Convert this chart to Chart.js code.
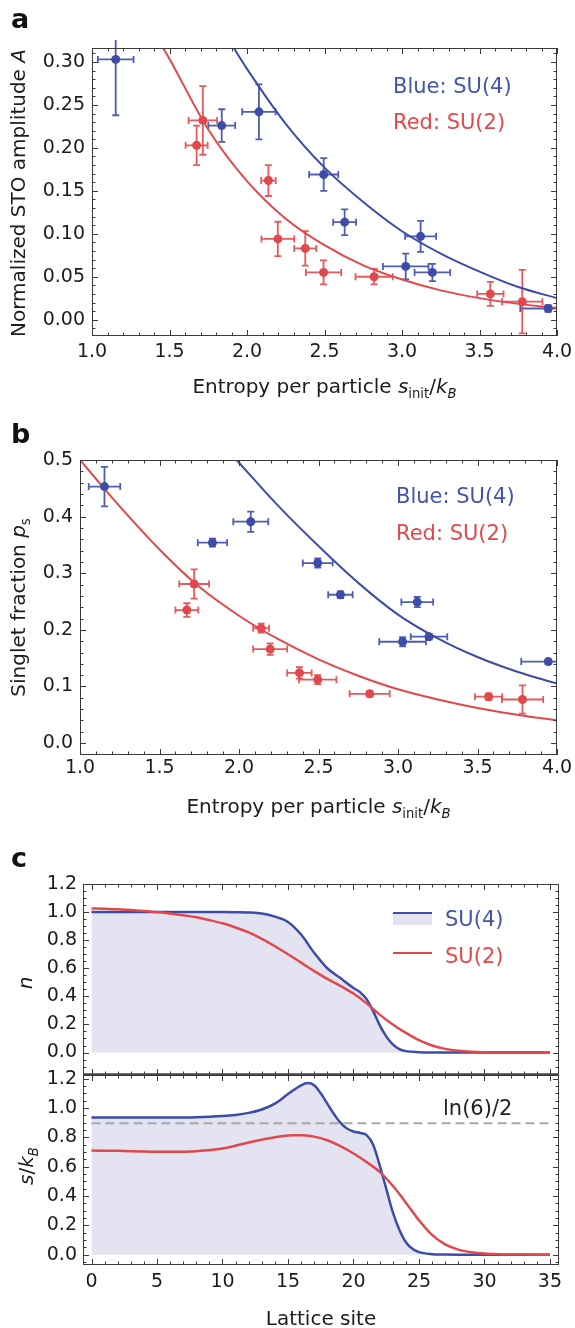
<!DOCTYPE html>
<html><head><meta charset="utf-8">
<script src="https://cdn.jsdelivr.net/npm/chart.js@4.4.1/dist/chart.umd.min.js"></script>
<style>
html,body{margin:0;padding:0;background:#fff;}
#wrap{position:relative;width:575px;height:1328px;overflow:hidden;background:#fff;}
canvas{position:absolute;left:0;}
.pl{position:absolute;font:bold 27px 'DejaVu Sans',sans-serif;color:#111;line-height:27px;}
</style></head>
<body><div id="wrap">
<canvas id="cA" width="575" height="400" style="top:0px"></canvas>
<canvas id="cB" width="575" height="420" style="top:400px"></canvas>
<canvas id="cC1" width="575" height="256" style="top:820px"></canvas>
<canvas id="cC2" width="575" height="263" style="top:1065px"></canvas>
<div class="pl" style="left:11px;top:5px">a</div>
<div class="pl" style="left:11px;top:420px">b</div>
<div class="pl" style="left:11px;top:844px">c</div>
</div>
<script>
// ================= DATA =================
// Panel a : normalized STO amplitude A vs entropy per particle
const aBlueX    = [1.153, 1.837, 2.077, 2.495, 2.630, 3.120, 3.024, 3.196, 3.943];
const aBlueY    = [0.303, 0.226, 0.242, 0.169, 0.1135, 0.097, 0.062, 0.055, 0.013];
const aBlueXErr = [0.115, 0.087, 0.108, 0.094, 0.074, 0.100, 0.147, 0.115, 0.180];
const aBlueYErr = [0.065, 0.019, 0.032, 0.019, 0.015, 0.018, 0.015, 0.010, 0.004];
const aRedX     = [1.715, 1.675, 2.138, 2.199, 2.376, 2.494, 2.820, 3.570, 3.776];
const aRedY     = [0.232, 0.203, 0.162, 0.094, 0.083, 0.055, 0.050, 0.030, 0.021];
const aRedXErr  = [0.092, 0.071, 0.047, 0.106, 0.071, 0.114, 0.120, 0.085, 0.130];
const aRedYErr  = [0.040, 0.023, 0.018, 0.020, 0.020, 0.014, 0.009, 0.014, 0.037];
const aFitBlueX = [1.916, 2.0, 2.25, 2.5, 2.75, 3.0, 3.25, 3.5, 3.75, 4.0];
const aFitBlueY = [0.316, 0.292, 0.228, 0.177, 0.137, 0.103, 0.077, 0.056, 0.038, 0.025];
const aFitRedX  = [1.46, 1.5, 1.75, 2.0, 2.25, 2.5, 2.75, 3.0, 3.25, 3.5, 3.75, 4.0];
const aFitRedY  = [0.316, 0.3036, 0.2214, 0.1614, 0.1176, 0.0867, 0.0632, 0.0468, 0.0341, 0.0251, 0.0184, 0.0135];
const aXTicks   = ['1.0', '1.5', '2.0', '2.5', '3.0', '3.5', '4.0'];
const aYTicks   = ['0.00', '0.05', '0.10', '0.15', '0.20', '0.25', '0.30'];

// Panel b : singlet fraction p_s vs entropy per particle
const bBlueX    = [1.154, 1.833, 2.074, 2.495, 2.638, 3.121, 3.029, 3.195, 3.945];
const bBlueY    = [0.453, 0.354, 0.391, 0.318, 0.262, 0.249, 0.179, 0.188, 0.144];
const bBlueXErr = [0.099, 0.092, 0.110, 0.094, 0.077, 0.100, 0.147, 0.115, 0.170];
const bBlueYErr = [0.035, 0.007, 0.018, 0.008, 0.006, 0.009, 0.008, 0.005, 0.004];
const bRedX     = [1.718, 1.672, 2.139, 2.196, 2.380, 2.495, 2.822, 3.570, 3.783];
const bRedY     = [0.281, 0.235, 0.203, 0.166, 0.124, 0.112, 0.087, 0.082, 0.077];
const bRedXErr  = [0.094, 0.072, 0.050, 0.107, 0.077, 0.118, 0.126, 0.086, 0.130];
const bRedYErr  = [0.026, 0.012, 0.008, 0.010, 0.010, 0.008, 0.005, 0.006, 0.025];
const bFitBlueX = [1.985, 2.25, 2.5, 2.75, 3.0, 3.25, 3.5, 3.75, 4.0];
const bFitBlueY = [0.500, 0.418, 0.348, 0.283, 0.227, 0.185, 0.152, 0.126, 0.105];
const bFitRedX  = [1.0, 1.25, 1.5, 1.75, 2.0, 2.25, 2.5, 2.75, 3.0, 3.25, 3.5, 3.75, 4.0];
const bFitRedY  = [0.500, 0.418, 0.342, 0.276, 0.225, 0.183, 0.148, 0.119, 0.095, 0.077, 0.062, 0.050, 0.040];
const bXTicks   = ['1.0', '1.5', '2.0', '2.5', '3.0', '3.5', '4.0'];
const bYTicks   = ['0.0', '0.1', '0.2', '0.3', '0.4', '0.5'];

// Panel c : density n and entropy s/kB vs lattice site
const cN4X = [0, 2, 4, 6, 8, 10, 11, 12, 13, 14, 15, 16, 17, 18, 19, 20, 20.5, 21, 21.5, 22, 22.5, 23, 23.5, 24, 25, 26, 28, 30, 35];
const cN4Y = [1.0, 1.0, 1.0, 1.0, 1.0, 1.0, 0.999, 0.997, 0.99, 0.968, 0.93, 0.84, 0.71, 0.60, 0.53, 0.46, 0.43, 0.38, 0.295, 0.195, 0.115, 0.058, 0.025, 0.010, 0.002, 0, 0, 0, 0];
const cN2X = [0, 1, 2, 3, 4, 5, 6, 7, 8, 9, 10, 11, 12, 13, 14, 15, 16, 17, 18, 19, 20, 21, 22, 23, 24, 25, 26, 27, 28, 29, 30, 31, 32, 35];
const cN2Y = [1.025, 1.024, 1.02, 1.015, 1.008, 1.0, 0.99, 0.978, 0.963, 0.943, 0.92, 0.89, 0.855, 0.81, 0.757, 0.70, 0.64, 0.58, 0.525, 0.475, 0.42, 0.35, 0.27, 0.20, 0.14, 0.088, 0.05, 0.026, 0.012, 0.005, 0.002, 0.001, 0, 0];
const cS4X = [0, 2, 4, 6, 8, 10, 11, 12, 13, 14, 15, 16, 16.5, 17, 17.5, 18, 18.5, 19, 19.5, 20, 20.5, 21, 21.5, 22, 22.5, 23, 23.5, 24, 24.5, 25, 26, 27, 28, 30, 35];
const cS4Y = [0.935, 0.935, 0.935, 0.935, 0.937, 0.945, 0.953, 0.967, 0.99, 1.03, 1.095, 1.155, 1.17, 1.155, 1.10, 1.03, 0.96, 0.90, 0.86, 0.84, 0.83, 0.815, 0.75, 0.61, 0.45, 0.29, 0.17, 0.085, 0.04, 0.018, 0.004, 0.001, 0, 0, 0];
const cS2X = [0, 2, 4, 6, 8, 10, 12, 14, 15, 15.5, 16, 17, 18, 19, 20, 21, 22, 23, 24, 25, 26, 27, 28, 29, 30, 31, 32, 33, 35];
const cS2Y = [0.71, 0.708, 0.704, 0.702, 0.706, 0.724, 0.765, 0.80, 0.812, 0.815, 0.814, 0.805, 0.78, 0.74, 0.69, 0.632, 0.565, 0.47, 0.355, 0.235, 0.135, 0.07, 0.035, 0.017, 0.008, 0.004, 0.002, 0.001, 0];
const cLnX = [0, 35];
const cLnY = [0.896, 0.896];   // ln(6)/2
const cXTicks = ['0', '5', '10', '15', '20', '25', '30', '35'];
const cYTicks = ['0.0', '0.2', '0.4', '0.6', '0.8', '1.0', '1.2'];

// ================= STYLE =================
const BLUE = '#3d4ca6', RED = '#e1484b', FILL = '#e3e3f2';
const BLUE_T = '#4353ae', RED_T = '#e0494c';
const FONT = "'DejaVu Sans', sans-serif";

Chart.defaults.font.family = FONT;
Chart.defaults.font.size = 19;
Chart.defaults.color = '#1c1c1c';
Chart.defaults.animation = false;
Chart.defaults.plugins.legend.display = false;
Chart.defaults.plugins.tooltip.enabled = false;

const zip = (xs, ys) => xs.map((v, i) => ({x: v, y: ys[i]}));

function axis(min, max, labels, o) {
  return {
    type: 'linear', min: min, max: max,
    grid: {display: false, drawTicks: false},
    border: {display: false},
    afterBuildTicks: s => { s.ticks = labels.map(l => ({value: parseFloat(l)})); },
    ticks: {autoSkip: false, maxRotation: 0, minRotation: 0, padding: o.pad || 0,
            display: o.show !== false, callback: (v, i) => labels[i]},
    afterFit: s => {
      if (o.w != null) s.width = o.w;
      if (o.h != null) s.height = o.h;
      s.paddingLeft = 0; s.paddingRight = 0; s.paddingTop = 0; s.paddingBottom = 0;
    }
  };
}

// error bars through the chart's scales
const errorBars = {
  id: 'errorBars',
  beforeDatasetsDraw(chart) {
    const {ctx, chartArea: a, scales: {x, y}} = chart;
    ctx.save();
    ctx.beginPath(); ctx.rect(a.left, a.top - 8, a.right - a.left, a.bottom - a.top + 16); ctx.clip();
    chart.data.datasets.forEach(ds => {
      if (!ds.errX) return;
      ctx.strokeStyle = ds.pointBackgroundColor; ctx.lineWidth = 1.8; ctx.globalAlpha = 0.9;
      ds.data.forEach((p, i) => {
        const px = x.getPixelForValue(p.x), py = y.getPixelForValue(p.y);
        const x0 = x.getPixelForValue(p.x - ds.errX[i]), x1 = x.getPixelForValue(p.x + ds.errX[i]);
        const y0 = y.getPixelForValue(p.y - ds.errY[i]), y1 = y.getPixelForValue(p.y + ds.errY[i]);
        const c = 3.5;
        ctx.beginPath();
        ctx.moveTo(x0, py); ctx.lineTo(x1, py);
        ctx.moveTo(x0, py - c); ctx.lineTo(x0, py + c);
        ctx.moveTo(x1, py - c); ctx.lineTo(x1, py + c);
        ctx.moveTo(px, y0); ctx.lineTo(px, y1);
        ctx.moveTo(px - c, y0); ctx.lineTo(px + c, y0);
        ctx.moveTo(px - c, y1); ctx.lineTo(px + c, y1);
        ctx.stroke();
      });
    });
    ctx.restore();
  }
};

// Mathematica-like frame with inward ticks on all four sides
const frameTicks = {
  id: 'frameTicks',
  afterDatasetsDraw(chart, args, o) {
    if (!o || !o.on) return;
    const {ctx, chartArea: a, scales: {x, y}} = chart;
    const seq = (min, max, step) => { const out = []; const n0 = Math.ceil(min / step - 1e-9), n1 = Math.floor(max / step + 1e-9); for (let n = n0; n <= n1; n++) out.push(n * step); return out; };
    const isMaj = (v, labs) => labs.some(l => Math.abs(parseFloat(l) - v) < 1e-6);
    ctx.save();
    ctx.strokeStyle = o.color || '#3a3a3a'; ctx.lineWidth = 1;
    ctx.beginPath();
    seq(x.min, x.max, o.xMinor).forEach(v => {
      const p = Math.round(x.getPixelForValue(v)) + 0.5, L = isMaj(v, o.xLabels) ? 6 : 3.5;
      ctx.moveTo(p, a.bottom); ctx.lineTo(p, a.bottom - L);
      ctx.moveTo(p, a.top); ctx.lineTo(p, a.top + L);
    });
    seq(y.min, y.max, o.yMinor).forEach(v => {
      const p = Math.round(y.getPixelForValue(v)) + 0.5, L = isMaj(v, o.yLabels) ? 6 : 3.5;
      ctx.moveTo(a.left, p); ctx.lineTo(a.left + L, p);
      ctx.moveTo(a.right, p); ctx.lineTo(a.right - L, p);
    });
    ctx.stroke();
    ctx.strokeRect(a.left + 0.5, a.top + 0.5, a.right - a.left - 1, a.bottom - a.top - 1);
    if (o.boldBottom) {
      ctx.lineWidth = 2.5; ctx.strokeStyle = '#444';
      ctx.beginPath(); ctx.moveTo(a.left, a.bottom - 0.5); ctx.lineTo(a.right, a.bottom - 0.5); ctx.stroke();
    }
    ctx.restore();
  }
};

// rich (italic / subscript) text and legend marks drawn on the canvas
function richText(ctx, segs, x, y, size, color, rot, align) {
  const parts = segs.map(s => {
    const fs = s.sub ? size * 0.66 : size;
    const font = (s.i ? 'italic ' : '') + fs + 'px ' + FONT;
    ctx.font = font;
    return {t: s.t, font: font, w: ctx.measureText(s.t).width, dy: s.sub ? size * 0.26 : 0};
  });
  const W = parts.reduce((acc, p) => acc + p.w, 0);
  ctx.save();
  ctx.translate(x, y);
  if (rot) ctx.rotate(rot);
  ctx.fillStyle = color; ctx.textBaseline = 'alphabetic'; ctx.textAlign = 'left';
  let cx = align === 'left' ? 0 : -W / 2;
  const base = size * 0.36;
  parts.forEach(p => { ctx.font = p.font; ctx.fillText(p.t, cx, base + p.dy); cx += p.w; });
  ctx.restore();
}
const annotations = {
  id: 'annotations',
  afterDraw(chart, args, o) {
    if (!o || !o.items) return;
    const ctx = chart.ctx;
    o.items.forEach(it => {
      if (it.type === 'line') {
        ctx.save(); ctx.strokeStyle = it.color; ctx.lineWidth = it.w;
        ctx.beginPath(); ctx.moveTo(it.x0, it.y); ctx.lineTo(it.x1, it.y); ctx.stroke(); ctx.restore();
      } else if (it.type === 'rect') {
        ctx.save(); ctx.fillStyle = it.color; ctx.fillRect(it.x, it.y, it.w, it.h); ctx.restore();
      } else {
        richText(ctx, it.segs, it.x, it.y, it.size || 20, it.color || '#1c1c1c', it.rot || 0, it.align);
      }
    });
  }
};
Chart.register(errorBars, frameTicks, annotations);

const entropyTitle = [{t: 'Entropy per particle '}, {t: 's', i: 1}, {t: 'init', sub: 1}, {t: '/'}, {t: 'k', i: 1}, {t: 'B', i: 1, sub: 1}];

function pointsDS(xs, ys, ex, ey, color) {
  return {data: zip(xs, ys), errX: ex, errY: ey, showLine: false,
          pointRadius: 4.5, pointHoverRadius: 4.5, pointBackgroundColor: color, pointBorderWidth: 0, pointBorderColor: color};
}
function lineDS(xs, ys, color, w, extra) {
  return Object.assign({data: zip(xs, ys), showLine: true, borderColor: color, borderWidth: w,
          pointRadius: 0, cubicInterpolationMode: 'monotone', fill: false}, extra || {});
}

// ---------------- Panel a ----------------
new Chart(document.getElementById('cA'), {
  type: 'scatter',
  data: {datasets: [
    pointsDS(aBlueX, aBlueY, aBlueXErr, aBlueYErr, BLUE),
    pointsDS(aRedX, aRedY, aRedXErr, aRedYErr, RED),
    lineDS(aFitBlueX, aFitBlueY, BLUE, 2),
    lineDS(aFitRedX, aFitRedY, RED, 2)
  ]},
  options: {
    responsive: false,
    layout: {padding: {left: 0, top: 48, right: 18, bottom: 0}},
    scales: {
      x: axis(1.0, 4.0, aXTicks, {h: 64, pad: 5}),
      y: axis(-0.019, 0.3163, aYTicks, {w: 92, pad: 7})
    },
    plugins: {
      frameTicks: {on: true, xMinor: 0.1, yMinor: 0.01, xLabels: aXTicks, yLabels: aYTicks},
      annotations: {items: [
        {segs: entropyTitle, x: 324.5, y: 386},
        {segs: [{t: 'Normalized STO amplitude '}, {t: 'A', i: 1}], x: 18, y: 193, rot: -Math.PI / 2},
        {segs: [{t: 'Blue: SU(4)'}], x: 393, y: 85.5, size: 21, color: BLUE_T, align: 'left'},
        {segs: [{t: 'Red: SU(2)'}], x: 393, y: 121.5, size: 21, color: RED_T, align: 'left'}
      ]}
    }
  }
});

// ---------------- Panel b ----------------
new Chart(document.getElementById('cB'), {
  type: 'scatter',
  data: {datasets: [
    pointsDS(bBlueX, bBlueY, bBlueXErr, bBlueYErr, BLUE),
    pointsDS(bRedX, bRedY, bRedXErr, bRedYErr, RED),
    lineDS(bFitBlueX, bFitBlueY, BLUE, 2),
    lineDS(bFitRedX, bFitRedY, RED, 2)
  ]},
  options: {
    responsive: false,
    layout: {padding: {left: 0, top: 60, right: 18, bottom: 0}},
    scales: {
      x: axis(1.0, 4.0, bXTicks, {h: 65, pad: 2}),
      y: axis(-0.021, 0.5, bYTicks, {w: 80, pad: 7})
    },
    plugins: {
      frameTicks: {on: true, xMinor: 0.1, yMinor: 0.02, xLabels: bXTicks, yLabels: bYTicks},
      annotations: {items: [
        {segs: entropyTitle, x: 318.5, y: 406},
        {segs: [{t: 'Singlet fraction '}, {t: 'p', i: 1}, {t: 's', sub: 1}], x: 18, y: 207.5, rot: -Math.PI / 2},
        {segs: [{t: 'Blue: SU(4)'}], x: 396, y: 95, size: 21, color: BLUE_T, align: 'left'},
        {segs: [{t: 'Red: SU(2)'}], x: 396, y: 132, size: 21, color: RED_T, align: 'left'}
      ]}
    }
  }
});

// ---------------- Panel c (top: n) ----------------
new Chart(document.getElementById('cC1'), {
  type: 'scatter',
  data: {datasets: [
    lineDS(cN2X, cN2Y, RED, 2.5),
    lineDS(cN4X, cN4Y, BLUE, 2.5, {fill: 'origin', backgroundColor: FILL})
  ]},
  options: {
    responsive: false,
    layout: {padding: {left: 0, top: 64, right: 16, bottom: 0}},
    scales: {
      x: axis(-0.65, 35.69, cXTicks, {h: 1, show: false}),
      y: axis(-0.16, 1.2, cYTicks, {w: 83, pad: 6})
    },
    plugins: {
      frameTicks: {on: true, xMinor: 1, yMinor: 0.05, xLabels: cXTicks, yLabels: cYTicks, boldBottom: true},
      annotations: {items: [
        {segs: [{t: 'n', i: 1}], x: 25, y: 163, rot: -Math.PI / 2},
        {type: 'rect', x: 393, y: 93, w: 39, h: 12, color: FILL},
        {type: 'line', x0: 393, x1: 432, y: 93, w: 2, color: BLUE},
        {segs: [{t: 'SU(4)'}], x: 445, y: 98.5, size: 21, color: BLUE_T, align: 'left'},
        {type: 'line', x0: 393, x1: 432, y: 133, w: 2, color: RED},
        {segs: [{t: 'SU(2)'}], x: 445, y: 135.5, size: 21, color: RED_T, align: 'left'}
      ]}
    }
  }
});

// ---------------- Panel c (bottom: s/kB) ----------------
new Chart(document.getElementById('cC2'), {
  type: 'scatter',
  data: {datasets: [
    lineDS(cS2X, cS2Y, RED, 2.5),
    lineDS(cLnX, cLnY, '#a9a9a9', 2, {borderDash: [9, 5], cubicInterpolationMode: 'default', tension: 0}),
    lineDS(cS4X, cS4Y, BLUE, 2.5, {fill: 'origin', backgroundColor: FILL})
  ]},
  options: {
    responsive: false,
    layout: {padding: {left: 0, top: 10, right: 16, bottom: 0}},
    scales: {
      x: axis(-0.65, 35.69, cXTicks, {h: 63, pad: 6}),
      y: axis(-0.07, 1.225, cYTicks, {w: 83, pad: 6})
    },
    plugins: {
      frameTicks: {on: true, xMinor: 1, yMinor: 0.05, xLabels: cXTicks, yLabels: cYTicks},
      annotations: {items: [
        {segs: [{t: 's', i: 1}, {t: '/'}, {t: 'k', i: 1}, {t: 'B', i: 1, sub: 1}], x: 26, y: 101, rot: -Math.PI / 2},
        {segs: [{t: 'ln(6)/2'}], x: 443, y: 42, size: 21, color: '#222', align: 'left'},
        {segs: [{t: 'Lattice site'}], x: 321, y: 253}
      ]}
    }
  }
});
</script>
</body></html>
